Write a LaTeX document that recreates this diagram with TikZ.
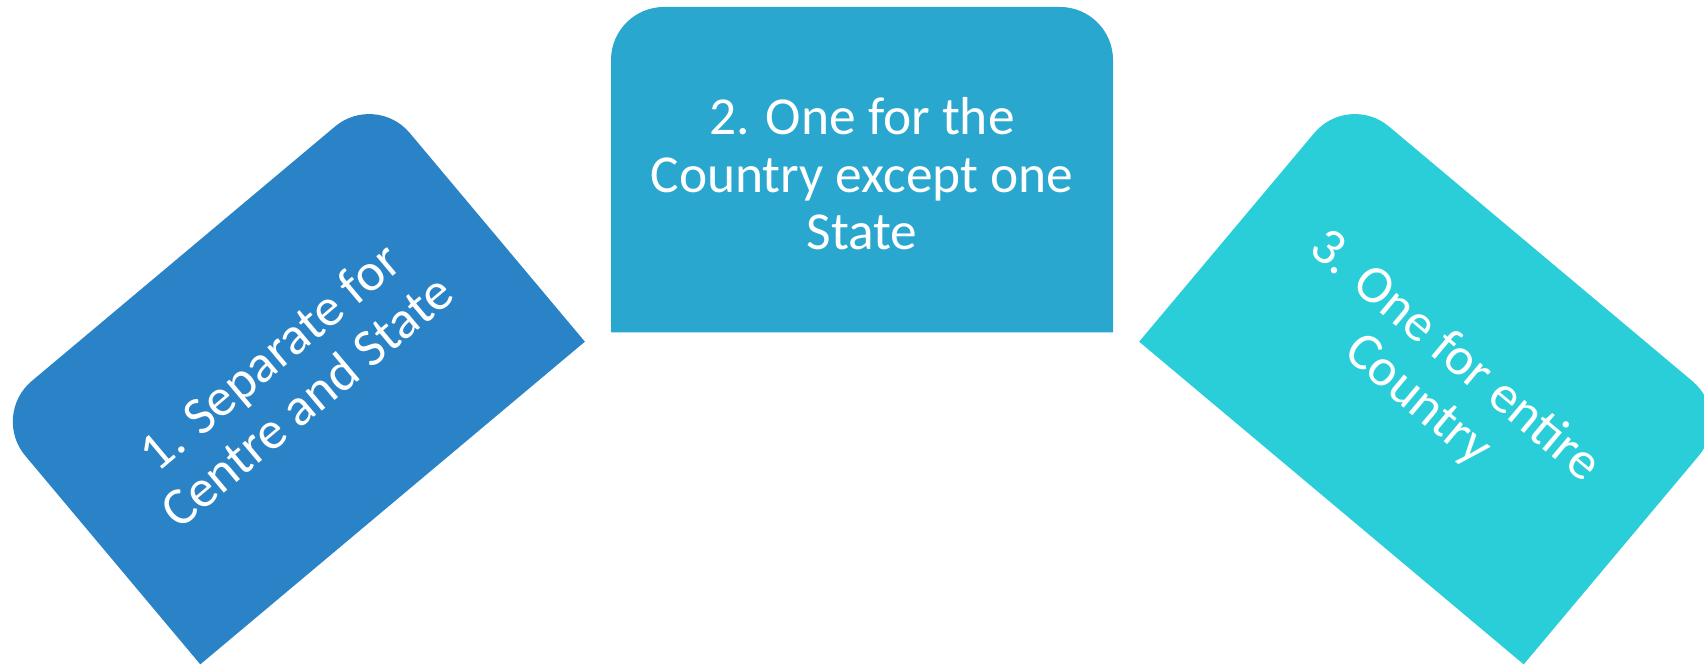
\documentclass[tikz,border=0pt]{standalone}
\usepackage{fontspec}
\setmainfont{Carlito}
\usepackage{tikz}
\usetikzlibrary{calc}
\definecolor{bleu1}{RGB}{41,131,198}
\definecolor{bleu2}{RGB}{41,167,207}
\definecolor{bleu3}{RGB}{42,206,216}
\tikzset{
  tabshape/.pic = {
    \fill[pic actions] (-2.51,-1.627) -- (-2.51,1.097) arc[start angle=180, end angle=90, radius=0.53]
      -- (1.98,1.627) arc[start angle=90, end angle=0, radius=0.53] -- (2.51,-1.627) -- cycle;
  },% onglet, coins du haut arrondis
  tabtext/.style = {align=center, text=white, inner sep=0pt,
    font=\fontsize{15.2}{16.4}\selectfont},
}

\begin{document}
\begin{tikzpicture}
\useasboundingbox (0,0) rectangle (17.04,6.65);
\clip (0,0) rectangle (17.04,6.65);
\pic[fill=bleu1, rotate=40] at (2.88,2.866) {tabshape};
\node[tabtext, rotate=40] (separe) at (2.88,2.866) {1. Separate for\\Centre and State};
\pic[fill=bleu2] at (8.62,4.953) {tabshape};
\node[tabtext] (sauf) at (8.62,4.91) {2. One for the\\Country except one\\State};
\pic[fill=bleu3, rotate=-40] at (14.36,2.866) {tabshape};
\node[tabtext, rotate=-40] (entier) at (14.36,2.866) {3. One for entire\\Country};
\end{tikzpicture}
\end{document}
